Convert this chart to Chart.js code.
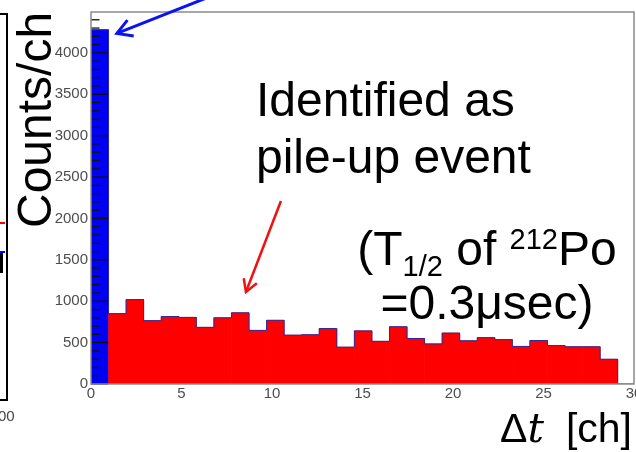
<!DOCTYPE html>
<html>
<head>
<meta charset="utf-8">
<script src="https://cdn.jsdelivr.net/npm/chart.js@4.4.1/dist/chart.umd.min.js"></script>
<style>
  html, body { margin: 0; padding: 0; width: 636px; height: 452px; overflow: hidden; background: #fff; }
  #wrap { position: absolute; left: 0; top: 0; width: 650px; height: 452px; }
  .txt { position: absolute; font-family: Arial, "Liberation Sans", sans-serif; color: #000; line-height: 1; white-space: nowrap; }
  .big { font-size: 48px; }
  .ctr { width: 400px; text-align: center; }
  .sub { font-size: 29px; vertical-align: -11px; }
  .sup { font-size: 29px; vertical-align: 16px; }
  .it { font-family: "DejaVu Serif", "Liberation Serif", serif; font-style: italic; }
  .edge { position: absolute; }
</style>
</head>
<body>
<div id="wrap"><canvas id="c" width="650" height="452"></canvas></div>

<!-- cut-off edge of the neighbouring panel -->
<div class="edge" style="left:-10px; top:13px; width:14px; height:384px; border:2px solid #000;"></div>
<div class="edge" style="left:0; top:222px; width:5px; height:1.5px; background:#f00;"></div>
<div class="edge" style="left:0; top:251px; width:5px; height:2px; background:#00f;"></div>
<div class="edge" style="left:0; top:253px; width:2.5px; height:20px; background:#000;"></div>
<div class="txt" style="left:-2px; top:408px; font-size:15px; color:#444;">00</div>

<!-- annotations -->
<div class="txt big" style="left:11.4px; top:228px; transform-origin:0 0; transform:rotate(-90deg);">Counts/ch</div>
<div class="txt big" style="left:256px; top:76px;">Identified as</div>
<div class="txt big" style="left:256px; top:133.4px;">pile-up event</div>
<div class="txt big ctr" style="left:287px; top:225.4px;">(T<span class="sub">1/2</span> of <span class="sup">212</span>Po</div>
<div class="txt big ctr" style="left:287px; top:279.4px;">=0.3μsec)</div>
<div class="txt" style="left:500px; top:408.3px; font-size:41px;">Δ<span class="it">t</span><span style="margin-left:22px">[ch]</span></div>

<script>
/* ---- DATA --------------------------------------------------- */
const binCounts = [4280, 850, 1020, 765, 815, 805, 685, 800, 860, 648,
                   770, 590, 595, 670, 445, 641, 516, 692, 550, 484,
                   615, 522, 560, 536, 454, 525, 464, 450, 450, 299];
const BIN_WIDTH = 0.97;   // bin width in ch, as drawn on the axis
const PILEUP_BINS = 1;    // leading bins shown in blue
const X_MAX = 30;
const xTickStep = 5;
const yMajorStep = 500;
const yMinorStep = 100;
const Y_MAX = Math.max(...binCounts) * 1.05;
// every 100 counts up to the top of the frame
const yTickValues = [];
for (let v = 0; v <= Y_MAX; v += yMinorStep) yTickValues.push(v);

const FONT = 'Arial, "Liberation Sans", sans-serif';

/* ---- DERIVED ------------------------------------------------ */
const barPoints = binCounts.map((c, i) => ({ x: (i + 0.5) * BIN_WIDTH, y: c }));
const outlinePoints = binCounts.map((c, i) => ({ x: i * BIN_WIDTH, y: c }))
  .concat([{ x: binCounts.length * BIN_WIDTH, y: 0 }, { x: X_MAX, y: 0 }]);

/* ---- PLUGINS ------------------------------------------------ */
// ROOT style frame and inward y ticks
const histFrame = {
  id: 'histFrame',
  afterDatasetsDraw(chart) {
    const { ctx, chartArea: a, scales: { y } } = chart;
    ctx.save();
    ctx.strokeStyle = '#111';
    ctx.lineWidth = 1.3;
    y.ticks.forEach(t => {
      const py = y.getPixelForValue(t.value);
      const len = t.value % yMajorStep === 0 ? 17 : 8.5;
      ctx.beginPath();
      ctx.moveTo(a.left, py);
      ctx.lineTo(a.left + len, py);
      ctx.stroke();
    });
    ctx.strokeStyle = '#8a8a8a';
    ctx.lineWidth = 1.5;
    ctx.strokeRect(a.left, a.top, a.right - a.left, a.bottom - a.top);
    ctx.restore();
  }
};

// arrows: tip in data coords, tail as pixel offset from tip
const arrowNotes = [
  { tip: { x: 1.43, y: 4235 }, tail: { dx: 101, dy: -40 }, color: '#0a14f0', width: 3, head: 17 },
  { tip: { x: 8.56, y: 1111 }, tail: { dx: 35, dy: -91 }, color: '#f01010', width: 2.5, head: 14 }
];

const arrows = {
  id: 'arrows',
  afterDraw(chart) {
    const { ctx, scales: { x, y } } = chart;
    ctx.save();
    ctx.lineJoin = 'miter';
    arrowNotes.forEach(n => {
      const tx = x.getPixelForValue(n.tip.x);
      const ty = y.getPixelForValue(n.tip.y);
      const len = Math.hypot(n.tail.dx, n.tail.dy);
      const ux = n.tail.dx / len, uy = n.tail.dy / len;
      const c = Math.cos(Math.PI / 6), s = Math.sin(Math.PI / 6);
      ctx.strokeStyle = n.color;
      ctx.lineWidth = n.width;
      ctx.beginPath();
      ctx.moveTo(tx + n.tail.dx, ty + n.tail.dy);
      ctx.lineTo(tx, ty);
      ctx.stroke();
      ctx.beginPath();
      ctx.moveTo(tx + (ux * c - uy * s) * n.head, ty + (ux * s + uy * c) * n.head);
      ctx.lineTo(tx, ty);
      ctx.lineTo(tx + (ux * c + uy * s) * n.head, ty + (-ux * s + uy * c) * n.head);
      ctx.stroke();
    });
    ctx.restore();
  }
};

/* ---- CHART -------------------------------------------------- */
new Chart(document.getElementById('c'), {
  type: 'bar',
  data: {
    datasets: [
      {
        type: 'line',
        data: outlinePoints,
        stepped: true,
        borderColor: '#2b2b9c',
        borderWidth: 1,
        pointRadius: 0,
        fill: false,
        order: 0
      },
      {
        type: 'bar',
        data: barPoints,
        backgroundColor: ctx => ctx.dataIndex < PILEUP_BINS ? '#0000f5' : '#ff0000',
        borderWidth: 0,
        barPercentage: 1,
        categoryPercentage: 1,
        order: 1
      }
    ]
  },
  options: {
    responsive: false,
    animation: false,
    layout: { padding: { left: 0, right: 16, top: 12, bottom: 0 } },
    plugins: { legend: { display: false }, tooltip: { enabled: false } },
    scales: {
      x: {
        type: 'linear',
        offset: false,
        min: 0,
        max: X_MAX,
        grid: { display: false, drawTicks: false, tickLength: 0, offset: false },
        border: { display: false },
        ticks: {
          stepSize: xTickStep,
          autoSkip: false,
          maxRotation: 0,
          padding: 1,
          color: '#4d4d4d',
          font: { family: FONT, size: 15 }
        },
        afterFit: s => { s.height = 68; }
      },
      y: {
        min: 0,
        max: Y_MAX,
        grid: { display: false, drawTicks: false, tickLength: 0 },
        border: { display: false },
        ticks: {
          autoSkip: false,
          padding: 3,
          color: '#4d4d4d',
          font: { family: FONT, size: 15 },
          callback: v => v % yMajorStep === 0 ? v : ''
        },
        afterBuildTicks: s => { s.ticks = yTickValues.map(v => ({ value: v })); },
        afterFit: s => { s.width = 91; }
      }
    }
  },
  plugins: [histFrame, arrows]
});
</script>
</body>
</html>
